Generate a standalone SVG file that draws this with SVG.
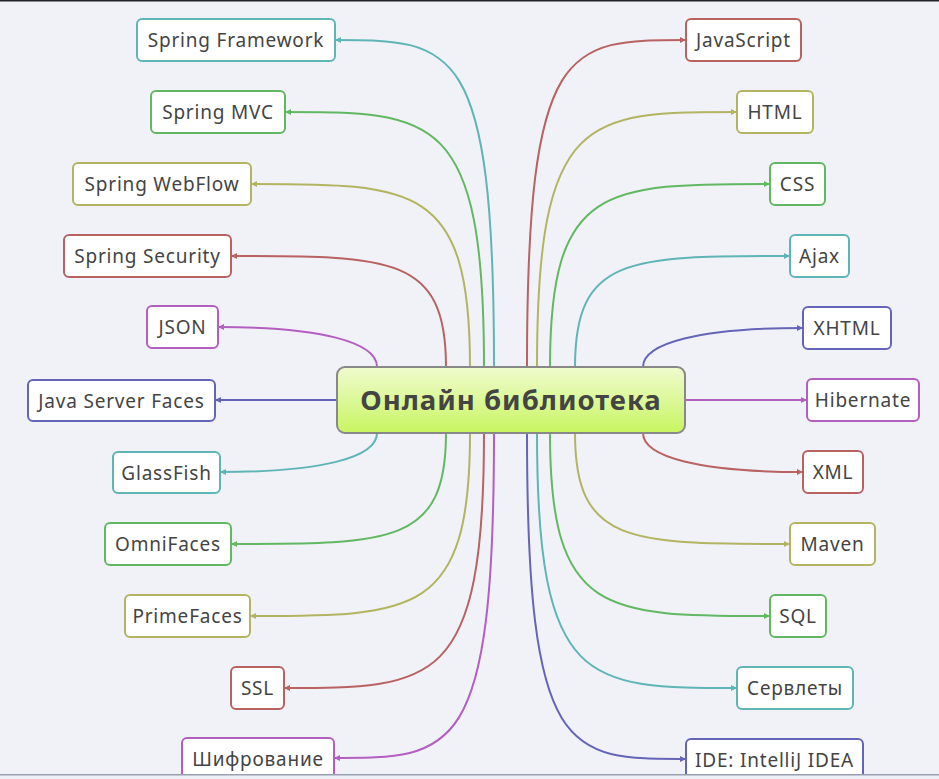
<svg xmlns="http://www.w3.org/2000/svg" width="939" height="779" viewBox="0 0 939 779">
<defs>
<linearGradient id="cg" x1="0" y1="0" x2="0" y2="1">
<stop offset="0" stop-color="#f0fbd0"/>
<stop offset="1" stop-color="#c8f560"/>
</linearGradient>
<marker id="ateal" viewBox="0 0 6 6" refX="6" refY="3" markerWidth="6" markerHeight="6" markerUnits="userSpaceOnUse" orient="auto"><path d="M0,0 L6,3 L0,6 z" fill="#5fb5b5"/></marker>
<marker id="agreen" viewBox="0 0 6 6" refX="6" refY="3" markerWidth="6" markerHeight="6" markerUnits="userSpaceOnUse" orient="auto"><path d="M0,0 L6,3 L0,6 z" fill="#62b862"/></marker>
<marker id="aolive" viewBox="0 0 6 6" refX="6" refY="3" markerWidth="6" markerHeight="6" markerUnits="userSpaceOnUse" orient="auto"><path d="M0,0 L6,3 L0,6 z" fill="#b3b462"/></marker>
<marker id="ared" viewBox="0 0 6 6" refX="6" refY="3" markerWidth="6" markerHeight="6" markerUnits="userSpaceOnUse" orient="auto"><path d="M0,0 L6,3 L0,6 z" fill="#b86262"/></marker>
<marker id="apurple" viewBox="0 0 6 6" refX="6" refY="3" markerWidth="6" markerHeight="6" markerUnits="userSpaceOnUse" orient="auto"><path d="M0,0 L6,3 L0,6 z" fill="#b25fc0"/></marker>
<marker id="ablue" viewBox="0 0 6 6" refX="6" refY="3" markerWidth="6" markerHeight="6" markerUnits="userSpaceOnUse" orient="auto"><path d="M0,0 L6,3 L0,6 z" fill="#6565b8"/></marker>
</defs>
<style>
.bg{fill:#f1f2f8}
.n rect{fill:#ffffff;stroke-width:2}
.n text{font-family:"Noto Sans","Open Sans","DejaVu Sans",sans-serif;font-size:19px;letter-spacing:0.8px;fill:#444444;text-anchor:middle}
.teal rect{stroke:#5fb5b5}.green rect{stroke:#62b862}.olive rect{stroke:#b3b462}.red rect{stroke:#b86262}.purple rect{stroke:#b25fc0}.blue rect{stroke:#6565b8}
#edges path{fill:none;stroke-width:2}
path.teal{stroke:#5fb5b5;marker-end:url(#ateal)}
path.green{stroke:#62b862;marker-end:url(#agreen)}
path.olive{stroke:#b3b462;marker-end:url(#aolive)}
path.red{stroke:#b86262;marker-end:url(#ared)}
path.purple{stroke:#b25fc0;marker-end:url(#apurple)}
path.blue{stroke:#6565b8;marker-end:url(#ablue)}
.center text{font-family:"Noto Sans","Open Sans","DejaVu Sans",sans-serif;font-size:27.5px;letter-spacing:1px;font-weight:bold;fill:#444444;text-anchor:middle}
</style>
<rect class="bg" x="0" y="0" width="939" height="779"/>
<rect x="0" y="0" width="939" height="1.5" fill="#222228"/>
<g id="edges">
<path class="teal" d="M494,367 C494,40 454,40 335,40"/>
<path class="green" d="M484,367 C484,112 434,112 285,112"/>
<path class="olive" d="M470,367 C470,184 415,184 251,184"/>
<path class="red" d="M446,367 C446,256 392,256 231,256"/>
<path class="purple" d="M377,367 C377,342 320,327 218,327"/>
<path class="blue" d="M337,400 L215,400"/>
<path class="teal" d="M377,433 C377,458 320,472 220,472"/>
<path class="green" d="M446,433 C446,544 392,544 231,544"/>
<path class="olive" d="M470,433 C470,616 415,616 250,616"/>
<path class="red" d="M484,433 C484,688 434,688 284,688"/>
<path class="purple" d="M494,433 C494,758 454,758 334,758"/>
<path class="red" d="M527,367 C527,40 567,40 686,40"/>
<path class="olive" d="M537,367 C537,112 587,112 737,112"/>
<path class="green" d="M550,367 C550,184 605,184 770,184"/>
<path class="teal" d="M575,367 C575,256 629,256 790,256"/>
<path class="blue" d="M643,367 C643,343 700,328 803,328"/>
<path class="purple" d="M685,400 L807,400"/>
<path class="red" d="M643,433 C643,457 700,472 803,472"/>
<path class="olive" d="M575,433 C575,544 629,544 790,544"/>
<path class="green" d="M550,433 C550,616 605,616 770,616"/>
<path class="teal" d="M537,433 C537,688 587,688 737,688"/>
<path class="blue" d="M527,433 C527,759 567,759 686,759"/>
</g>
<g id="center" class="center">
<rect x="337" y="367" width="348" height="66" rx="8" fill="url(#cg)" stroke="#888888" stroke-width="2"/>
<text x="511" y="410">Онлайн библиотека</text>
</g>
<g id="n-spring-framework" class="n teal"><rect x="137" y="19" width="198" height="42" rx="5"/><text x="236" y="46.5">Spring Framework</text></g>
<g id="n-spring-mvc" class="n green"><rect x="151" y="91" width="134" height="42" rx="5"/><text x="218" y="118.5">Spring MVC</text></g>
<g id="n-spring-webflow" class="n olive"><rect x="73" y="163" width="178" height="42" rx="5"/><text x="162" y="190.5">Spring WebFlow</text></g>
<g id="n-spring-security" class="n red"><rect x="64" y="235" width="167" height="42" rx="5"/><text x="147.5" y="262.5">Spring Security</text></g>
<g id="n-json" class="n purple"><rect x="147" y="306" width="71" height="42" rx="5"/><text x="182.5" y="333.5">JSON</text></g>
<g id="n-jsf" class="n blue"><rect x="28" y="380" width="187" height="41" rx="5"/><text x="121.5" y="407.5">Java Server Faces</text></g>
<g id="n-glassfish" class="n teal"><rect x="113" y="452" width="107" height="41" rx="5"/><text x="166.5" y="479.5">GlassFish</text></g>
<g id="n-omnifaces" class="n green"><rect x="105" y="523" width="126" height="42" rx="5"/><text x="168" y="550.5">OmniFaces</text></g>
<g id="n-primefaces" class="n olive"><rect x="125" y="595" width="125" height="42" rx="5"/><text x="187.5" y="622.5">PrimeFaces</text></g>
<g id="n-ssl" class="n red"><rect x="231" y="667" width="53" height="42" rx="5"/><text x="257.5" y="694.5">SSL</text></g>
<g id="n-shifrovanie" class="n purple"><rect x="182" y="738" width="152" height="42" rx="5"/><text x="258" y="765.5">Шифрование</text></g>
<g id="n-javascript" class="n red"><rect x="686" y="19" width="115" height="42" rx="5"/><text x="743.5" y="46.5">JavaScript</text></g>
<g id="n-html" class="n olive"><rect x="737" y="91" width="76" height="42" rx="5"/><text x="775" y="118.5">HTML</text></g>
<g id="n-css" class="n green"><rect x="770" y="163" width="55" height="42" rx="5"/><text x="797.5" y="190.5">CSS</text></g>
<g id="n-ajax" class="n teal"><rect x="790" y="235" width="59" height="42" rx="5"/><text x="819.5" y="262.5">Ajax</text></g>
<g id="n-xhtml" class="n blue"><rect x="803" y="307" width="88" height="42" rx="5"/><text x="847" y="334.5">XHTML</text></g>
<g id="n-hibernate" class="n purple"><rect x="807" y="379" width="112" height="42" rx="5"/><text x="863" y="406.5">Hibernate</text></g>
<g id="n-xml" class="n red"><rect x="803" y="451" width="60" height="42" rx="5"/><text x="833" y="478.5">XML</text></g>
<g id="n-maven" class="n olive"><rect x="790" y="523" width="85" height="42" rx="5"/><text x="832.5" y="550.5">Maven</text></g>
<g id="n-sql" class="n green"><rect x="770" y="595" width="56" height="42" rx="5"/><text x="798" y="622.5">SQL</text></g>
<g id="n-servlety" class="n teal"><rect x="737" y="667" width="116" height="42" rx="5"/><text x="795" y="694.5">Сервлеты</text></g>
<g id="n-ide" class="n blue"><rect x="686" y="739" width="177" height="42" rx="5"/><text x="774.5" y="766.5">IDE: IntelliJ IDEA</text></g>
<rect x="0" y="775" width="939" height="4" fill="#eef0f8"/>
<rect x="0" y="774" width="939" height="1.5" fill="#9aa0b2"/>
</svg>
